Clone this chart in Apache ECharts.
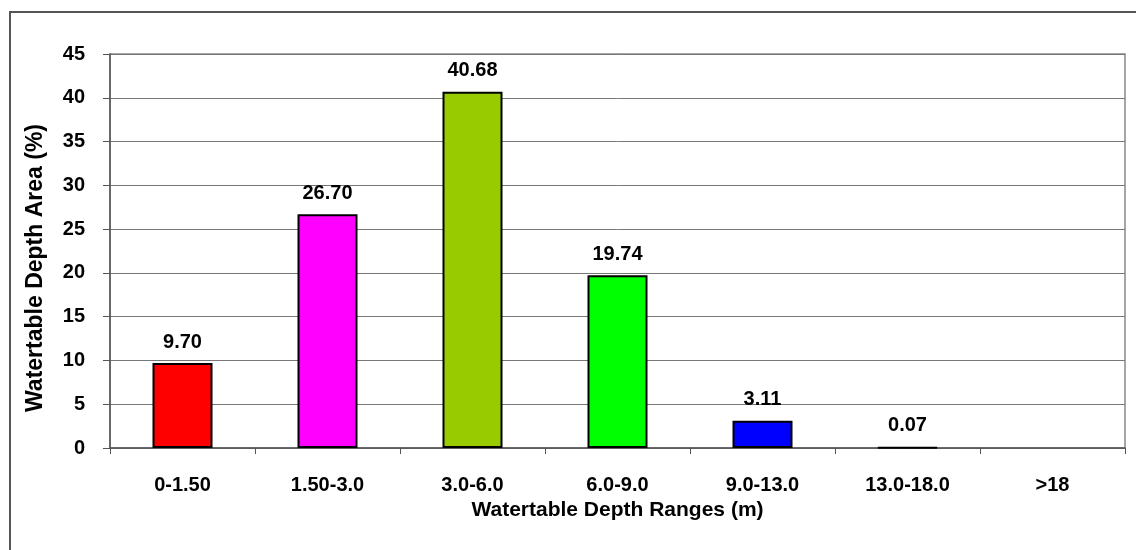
<!DOCTYPE html>
<html><head><meta charset="utf-8">
<script src="https://cdn.jsdelivr.net/npm/echarts@6/dist/echarts.min.js"></script>
<style>html,body{margin:0;padding:0;background:#fff}#c{width:1136px;height:550px}</style>
</head><body><div id="c"></div>
<script>
const categories = ['0-1.50','1.50-3.0','3.0-6.0','6.0-9.0','9.0-13.0','13.0-18.0','>18'];
const values = [9.70, 26.70, 40.68, 19.74, 3.11, 0.07, null];
const colors = ['#FF0000','#FF00FF','#99CC00','#00FF00','#0000FF','#000080','#FFFFFF'];
const yTicks = {min:0, max:45, interval:5};

const chart = echarts.init(document.getElementById('c'));
const font = 'Liberation Sans, Arial, sans-serif';
chart.setOption({
  animation:false,
  backgroundColor:'#fff',
  graphic:[{type:'rect', shape:{x:10,y:12,width:1140,height:560}, style:{fill:'none',stroke:'#555',lineWidth:2}, z:-1}],
  grid:{left:110, top:54, right:11, bottom:102, containLabel:false, show:true, borderColor:'#888', borderWidth:1.5, backgroundColor:'transparent'},
  xAxis:{type:'category', data:categories,
    name:'Watertable Depth Ranges (m)', nameLocation:'middle', nameGap:50,
    nameTextStyle:{fontFamily:font, fontWeight:'bold', fontSize:21, color:'#000'},
    axisLine:{lineStyle:{color:'#555', width:1.5}},
    axisTick:{show:true, length:6, alignWithLabel:false, lineStyle:{color:'#555'}},
    axisLabel:{fontFamily:font, fontWeight:'bold', fontSize:20, color:'#000', margin:27}},
  yAxis:{type:'value', min:yTicks.min, max:yTicks.max, interval:yTicks.interval,
    name:'Watertable Depth Area (%)', nameLocation:'middle', nameGap:63,
    nameTextStyle:{fontFamily:font, fontWeight:'bold', fontSize:23, color:'#000', padding:[0,34,0,0]},
    axisLine:{show:true, lineStyle:{color:'#555', width:1.5}},
    axisTick:{show:true, length:7, lineStyle:{color:'#555'}},
    splitLine:{lineStyle:{color:'#777', width:1}},
    axisLabel:{fontFamily:font, fontWeight:'bold', fontSize:20, color:'#000', margin:25}},
  series:[{type:'bar', barWidth:60,
    data: values.map((v,i)=>({value:v, itemStyle:{color:colors[i]}})),
    itemStyle:{borderColor:'#000', borderWidth:2},
    label:{show:true, position:'top', distance:11, fontFamily:font, fontWeight:'bold', fontSize:20, color:'#000',
      formatter:p=>p.value==null?'':p.value.toFixed(2)}}]
});
</script></body></html>
